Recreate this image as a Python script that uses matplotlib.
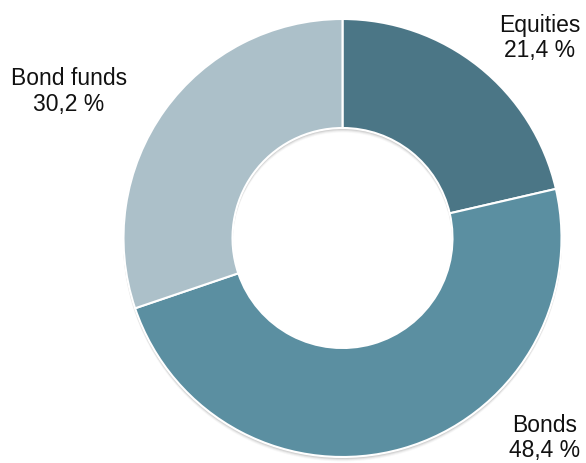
import matplotlib.pyplot as plt
from matplotlib.patches import Wedge

plt.rcParams['font.family'] = ['Liberation Sans', 'DejaVu Sans']

labels = ['Equities', 'Bonds', 'Bond funds']
shares = [21.4, 48.4, 30.2]
colors = ['#4b7686', '#5b8fa1', '#acc0c9']

fig = plt.figure(figsize=(5.86, 4.63), dpi=100)
ax = fig.add_axes([0, 0, 1, 1])

cx, cy, r = 342.5, 225, 219
ring = 109

# soft drop shadow under the ring
for dy, a in [(4, 0.06), (3, 0.10), (2, 0.16), (1, 0.22)]:
    ax.add_patch(Wedge((cx, cy - dy), r + 0.5, 0, 360, width=ring + 1,
                       facecolor='#888888', edgecolor='none', alpha=a, zorder=0))

ax.pie(shares, colors=colors, startangle=90, counterclock=False,
       center=(cx, cy), radius=r, frame=True,
       wedgeprops=dict(width=ring, edgecolor='white', linewidth=1.5))
ax.set_xlim(0, 586)
ax.set_ylim(0, 463)
ax.set_aspect('equal')
ax.axis('off')

def fmt(v):
    return f'{v:.1f} %'.replace('.', ',')

# x centre and baseline of the first line, for each label
label_pos = [(540, 431), (545, 31), (69, 378)]
for name, val, (x, y) in zip(labels, shares, label_pos):
    ax.text(x, y, name, ha='center', va='baseline', fontsize=16.5, color='#111111')
    ax.text(x, y - 25.5, fmt(val), ha='center', va='baseline', fontsize=16.5, color='#111111')

fig.savefig('out.png', dpi=100)
